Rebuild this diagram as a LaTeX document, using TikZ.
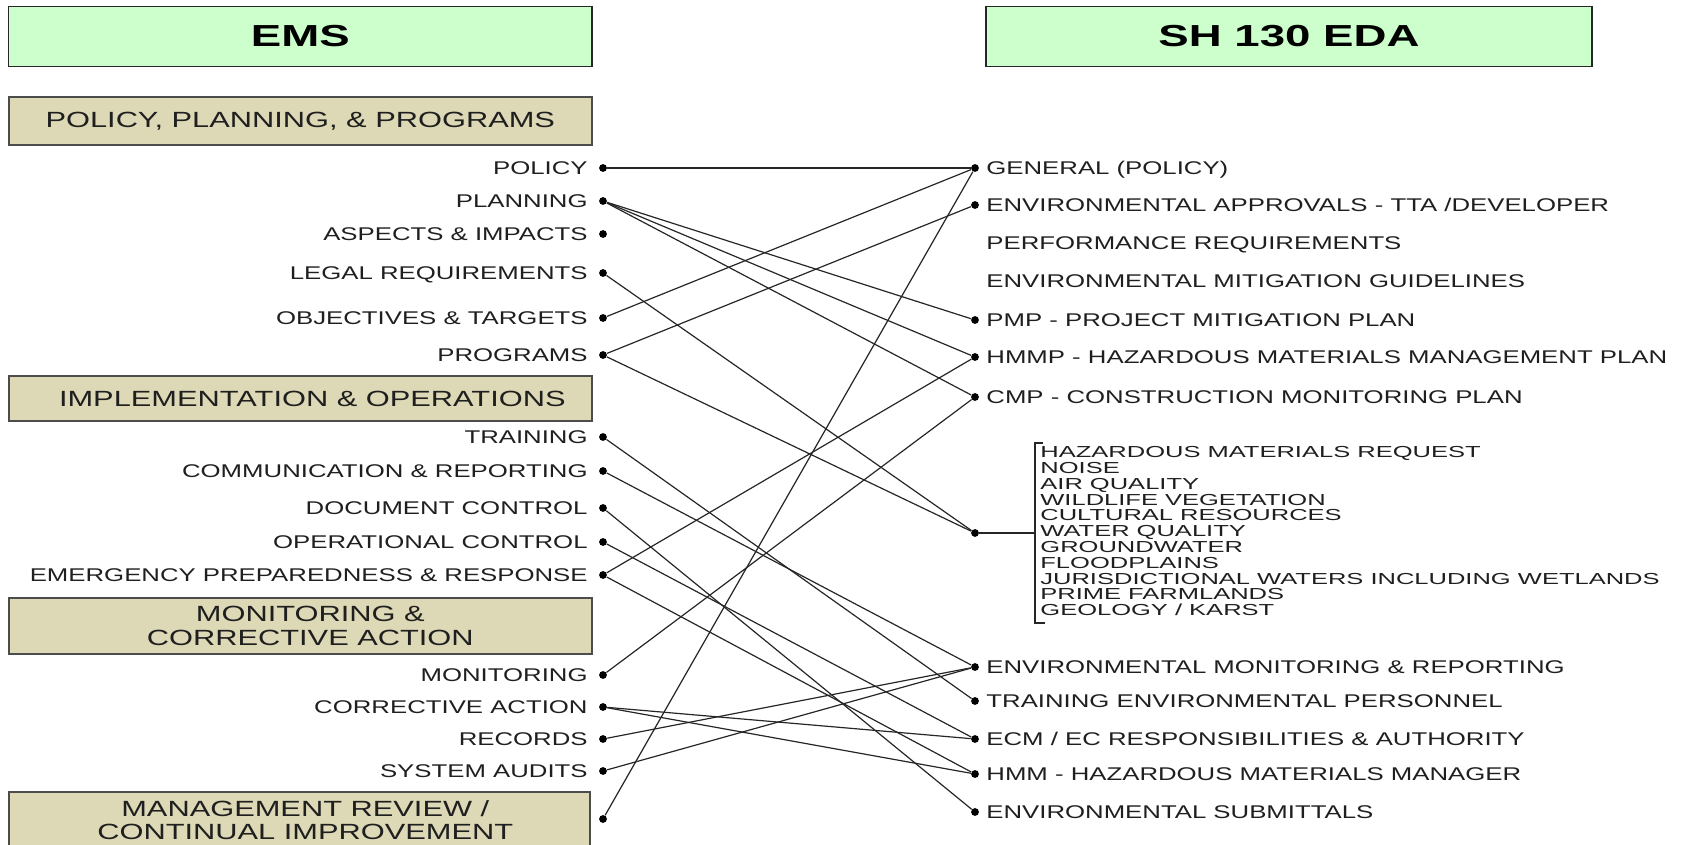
\documentclass[tikz,border=0pt]{standalone}
\usepackage{fontspec}
\setmainfont{Liberation Sans}[FakeStretch=1.4]
\newfontfamily\listfont{Liberation Sans}[FakeStretch=1.6]
\newfontfamily\headfont{Liberation Sans}[FakeStretch=1.5]
\usepackage{xcolor}
\definecolor{mintfill}{RGB}{204,255,204}
\definecolor{khakifill}{RGB}{221,217,182}
\tikzset{
    dot/.style={circle,fill=black,inner sep=0mm,minimum size=3.9pt},
    lbl/.style={
        inner sep=0mm,
        text height=6.6pt,
        text depth=0pt,
        text=black!88,
        font=\fontsize{9.2}{11}\selectfont
    },
    lst/.style={
        inner sep=0mm,
        anchor=west,
        text height=5.7pt,
        text depth=0pt,
        text=black!88,
        font=\listfont\fontsize{7.97}{8}\selectfont
    },
    headbox/.style={
        draw=black!85,
        line width=0.8pt,
        fill=mintfill,
        inner sep=0mm,
        font=\headfont\bfseries\fontsize{15.2}{18}\selectfont
    },
    secbox/.style={
        draw=black!70,
        line width=1pt,
        fill=khakifill,
        inner sep=0mm,
        align=center,
        text=black!88,
        font=\fontsize{11}{11.8}\selectfont
    },
    link/.style={black!85,line width=0.6pt}
}
\newcommand{\emsitem}[3] {
    \node[lbl,anchor=east] (#1-txt) at (588, #2) {#3};
    \node[dot] (#1) at (603, #2) {};
}
\newcommand{\edaitem}[3] {
    \node[dot] (#1) at (975, #2) {};
    \node[lbl,anchor=west] (#1-txt) at (986, #2) {#3};
}

\begin{document}
\begin{tikzpicture}[x=0.5pt,y=-0.5pt]
        \clip (0,0) rectangle (1681,845);
        \node[headbox,minimum width=291.7pt,minimum height=30pt] (ems) at (300.3,36.5) {EMS};
        \node[headbox,minimum width=303pt,minimum height=30pt] (eda) at (1289,36.5) {SH 130 EDA};
        \node[secbox,minimum width=291.7pt,minimum height=23.6pt] (ppp) at (300.3,121.1) {POLICY, PLANNING, \& PROGRAMS};
        \node[secbox,minimum width=291.7pt,minimum height=22.5pt] (impl) at (300.3,398.5) {\hspace*{12pt}IMPLEMENTATION \& OPERATIONS};
        \node[secbox,minimum width=291.7pt,minimum height=28pt] (mca) at (300.3,626) {\hspace*{10pt}MONITORING \&\\\hspace*{10pt}CORRECTIVE ACTION};
        \node[secbox,minimum width=290.7pt,minimum height=28pt] (mrci) at (299.3,820) {\hspace*{6pt}MANAGEMENT REVIEW /\\\hspace*{6pt}CONTINUAL IMPROVEMENT};
        \emsitem{policy}{168}{POLICY}
        \emsitem{planning}{201}{PLANNING}
        \emsitem{aspects}{234}{ASPECTS \& IMPACTS}
        \emsitem{legal}{273}{LEGAL REQUIREMENTS}
        \emsitem{objectives}{318}{OBJECTIVES \& TARGETS}
        \emsitem{programs}{355}{PROGRAMS}
        \emsitem{training}{437}{TRAINING}
        \emsitem{comm}{471}{COMMUNICATION \& REPORTING}
        \emsitem{doccontrol}{508}{DOCUMENT CONTROL}
        \emsitem{opcontrol}{542}{OPERATIONAL CONTROL}
        \emsitem{emergency}{575}{EMERGENCY PREPAREDNESS \& RESPONSE}
        \emsitem{monitoring}{675}{MONITORING}
        \emsitem{corrective}{707}{CORRECTIVE ACTION}
        \emsitem{records}{739}{RECORDS}
        \emsitem{audits}{771}{SYSTEM AUDITS}
        \node[dot] (mgmtreview) at (603,819) {};
        \edaitem{general}{168}{GENERAL (POLICY)}
        \edaitem{approvals}{205}{ENVIRONMENTAL APPROVALS - TTA /DEVELOPER}
        \node[lbl,anchor=west] (perfreq) at (986,243) {PERFORMANCE REQUIREMENTS};
        \node[lbl,anchor=west] (mitguide) at (986,281) {ENVIRONMENTAL MITIGATION GUIDELINES};
        \edaitem{pmp}{320}{PMP - PROJECT MITIGATION PLAN}
        \edaitem{hmmp}{357}{HMMP - HAZARDOUS MATERIALS MANAGEMENT PLAN}
        \edaitem{cmp}{397}{CMP - CONSTRUCTION MONITORING PLAN}
        \node[dot] (resources) at (975,533) {};
        \edaitem{envmon}{667}{ENVIRONMENTAL MONITORING \& REPORTING}
        \edaitem{staff}{701}{TRAINING ENVIRONMENTAL PERSONNEL}
        \edaitem{ecm}{739}{ECM / EC RESPONSIBILITIES \& AUTHORITY}
        \edaitem{hmm}{774}{HMM - HAZARDOUS MATERIALS MANAGER}
        \edaitem{submittals}{812}{ENVIRONMENTAL SUBMITTALS}
        \coordinate (brktop) at (1035,443);
        \coordinate (brkbot) at (1035,623);
        \draw[link] (brktop) ++(8,0) -- (brktop) -- (brkbot) -- ++(10,0);
        \draw[link] (resources) -- (brktop |- resources);
        \foreach \txt [count=\i from 0] in {HAZARDOUS MATERIALS REQUEST,NOISE,AIR QUALITY,WILDLIFE VEGETATION,
            CULTURAL RESOURCES,WATER QUALITY,GROUNDWATER,FLOODPLAINS,
            JURISDICTIONAL WATERS INCLUDING WETLANDS,PRIME FARMLANDS,GEOLOGY / KARST}
            \node[lst] (topic\i) at (1040, 452+15.8*\i) {\txt};
        \foreach \a/\b in {policy/general,planning/pmp,planning/hmmp,planning/cmp,
            legal/resources,objectives/general,programs/approvals,programs/resources,
            training/staff,comm/envmon,doccontrol/submittals,opcontrol/ecm,
            emergency/hmmp,emergency/hmm,monitoring/cmp,corrective/ecm,
            corrective/hmm,records/envmon,audits/envmon,mgmtreview/general}
            \draw[link] (\a) -- (\b);
    \end{tikzpicture}
\end{document}
